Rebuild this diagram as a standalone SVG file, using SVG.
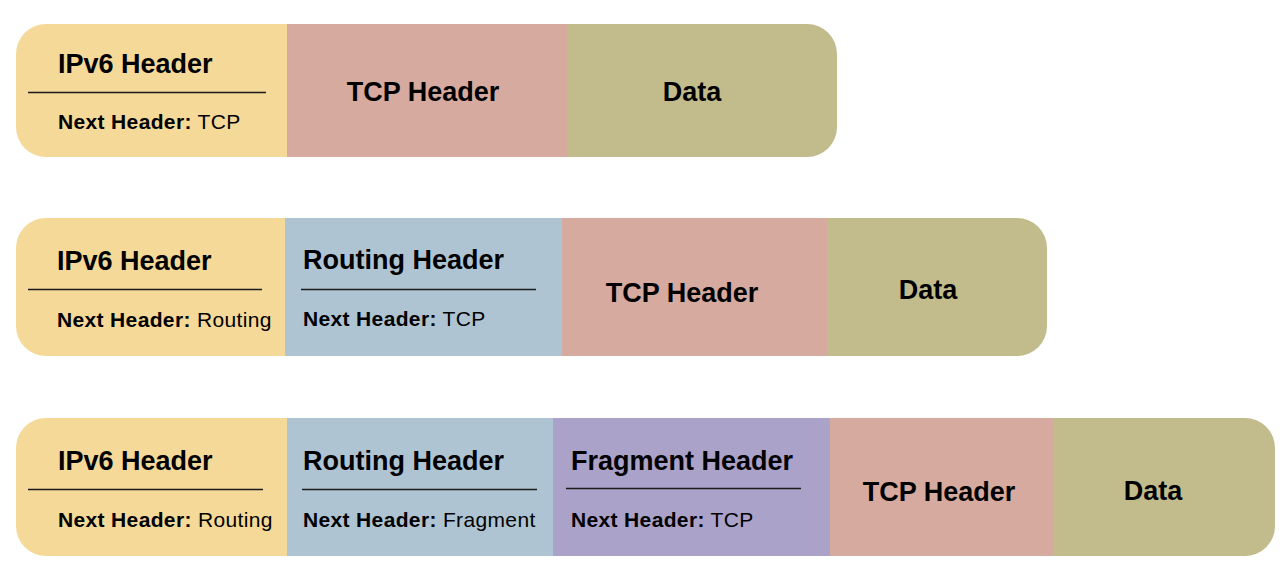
<svg xmlns="http://www.w3.org/2000/svg" width="1286" height="584" viewBox="0 0 1286 584">
<style>
.t{font-family:"Liberation Sans",Arial,sans-serif;font-weight:bold;font-size:27px;fill:#000}
.c{text-anchor:middle}
.s{font-family:"Liberation Sans",Arial,sans-serif;font-size:21px;letter-spacing:0.35px;fill:#000}
.s tspan.b{font-weight:bold}
.ln{stroke:#1a1a1a;stroke-width:1.6}
.ipv6{fill:#F5D998}
.tcp{fill:#D6AA9F}
.data{fill:#C2BB8C}
.rout{fill:#AFC4D3}
.frag{fill:#ABA2C9}
</style>
<defs>
<clipPath id="c1"><rect x="16" y="24" width="821" height="133" rx="30"/></clipPath>
<clipPath id="c2"><rect x="16" y="218" width="1031" height="138" rx="30"/></clipPath>
<clipPath id="c3"><rect x="16" y="418" width="1259" height="138" rx="30"/></clipPath>
</defs>
<rect width="1286" height="584" fill="#fff"/>

<g id="row1" clip-path="url(#c1)">
  <g id="r1-ipv6">
    <rect class="ipv6" x="16" y="24" width="272" height="133"/>
    <text class="t" x="58" y="73">IPv6 Header</text>
    <line class="ln" x1="28" y1="92.5" x2="266" y2="92.5"/>
    <text class="s" x="58" y="129"><tspan class="b">Next Header:</tspan> TCP</text>
  </g>
  <g id="r1-tcp">
    <rect class="tcp" x="287" y="24" width="281" height="133"/>
    <text class="t c" x="423" y="101">TCP Header</text>
  </g>
  <g id="r1-data">
    <rect class="data" x="567" y="24" width="270" height="133"/>
    <text class="t c" x="692" y="101">Data</text>
  </g>
</g>

<g id="row2" clip-path="url(#c2)">
  <g id="r2-ipv6">
    <rect class="ipv6" x="16" y="218" width="270" height="138"/>
    <text class="t" x="57" y="270">IPv6 Header</text>
    <line class="ln" x1="28" y1="289.5" x2="262" y2="289.5"/>
    <text class="s" x="57" y="327"><tspan class="b">Next Header:</tspan> Routing</text>
  </g>
  <g id="r2-routing">
    <rect class="rout" x="285" y="218" width="278" height="138"/>
    <text class="t" x="303" y="269">Routing Header</text>
    <line class="ln" x1="301" y1="289.5" x2="536" y2="289.5"/>
    <text class="s" x="303" y="326"><tspan class="b">Next Header:</tspan> TCP</text>
  </g>
  <g id="r2-tcp">
    <rect class="tcp" x="562" y="218" width="266" height="138"/>
    <text class="t c" x="682" y="302">TCP Header</text>
  </g>
  <g id="r2-data">
    <rect class="data" x="827" y="218" width="220" height="138"/>
    <text class="t c" x="928" y="299">Data</text>
  </g>
</g>

<g id="row3" clip-path="url(#c3)">
  <g id="r3-ipv6">
    <rect class="ipv6" x="16" y="418" width="272" height="138"/>
    <text class="t" x="58" y="470">IPv6 Header</text>
    <line class="ln" x1="28" y1="489.5" x2="263" y2="489.5"/>
    <text class="s" x="58" y="527"><tspan class="b">Next Header:</tspan> Routing</text>
  </g>
  <g id="r3-routing">
    <rect class="rout" x="287" y="418" width="267" height="138"/>
    <text class="t" x="303" y="470">Routing Header</text>
    <line class="ln" x1="302" y1="489.5" x2="537" y2="489.5"/>
    <text class="s" x="303" y="527"><tspan class="b">Next Header:</tspan> Fragment</text>
  </g>
  <g id="r3-fragment">
    <rect class="frag" x="553" y="418" width="278" height="138"/>
    <text class="t" x="571" y="470">Fragment Header</text>
    <line class="ln" x1="566" y1="488.5" x2="801" y2="488.5"/>
    <text class="s" x="571" y="527"><tspan class="b">Next Header:</tspan> TCP</text>
  </g>
  <g id="r3-tcp">
    <rect class="tcp" x="830" y="418" width="224" height="138"/>
    <text class="t c" x="939" y="501">TCP Header</text>
  </g>
  <g id="r3-data">
    <rect class="data" x="1053" y="418" width="222" height="138"/>
    <text class="t c" x="1153" y="500">Data</text>
  </g>
</g>

<g id="connectors"/>
</svg>
